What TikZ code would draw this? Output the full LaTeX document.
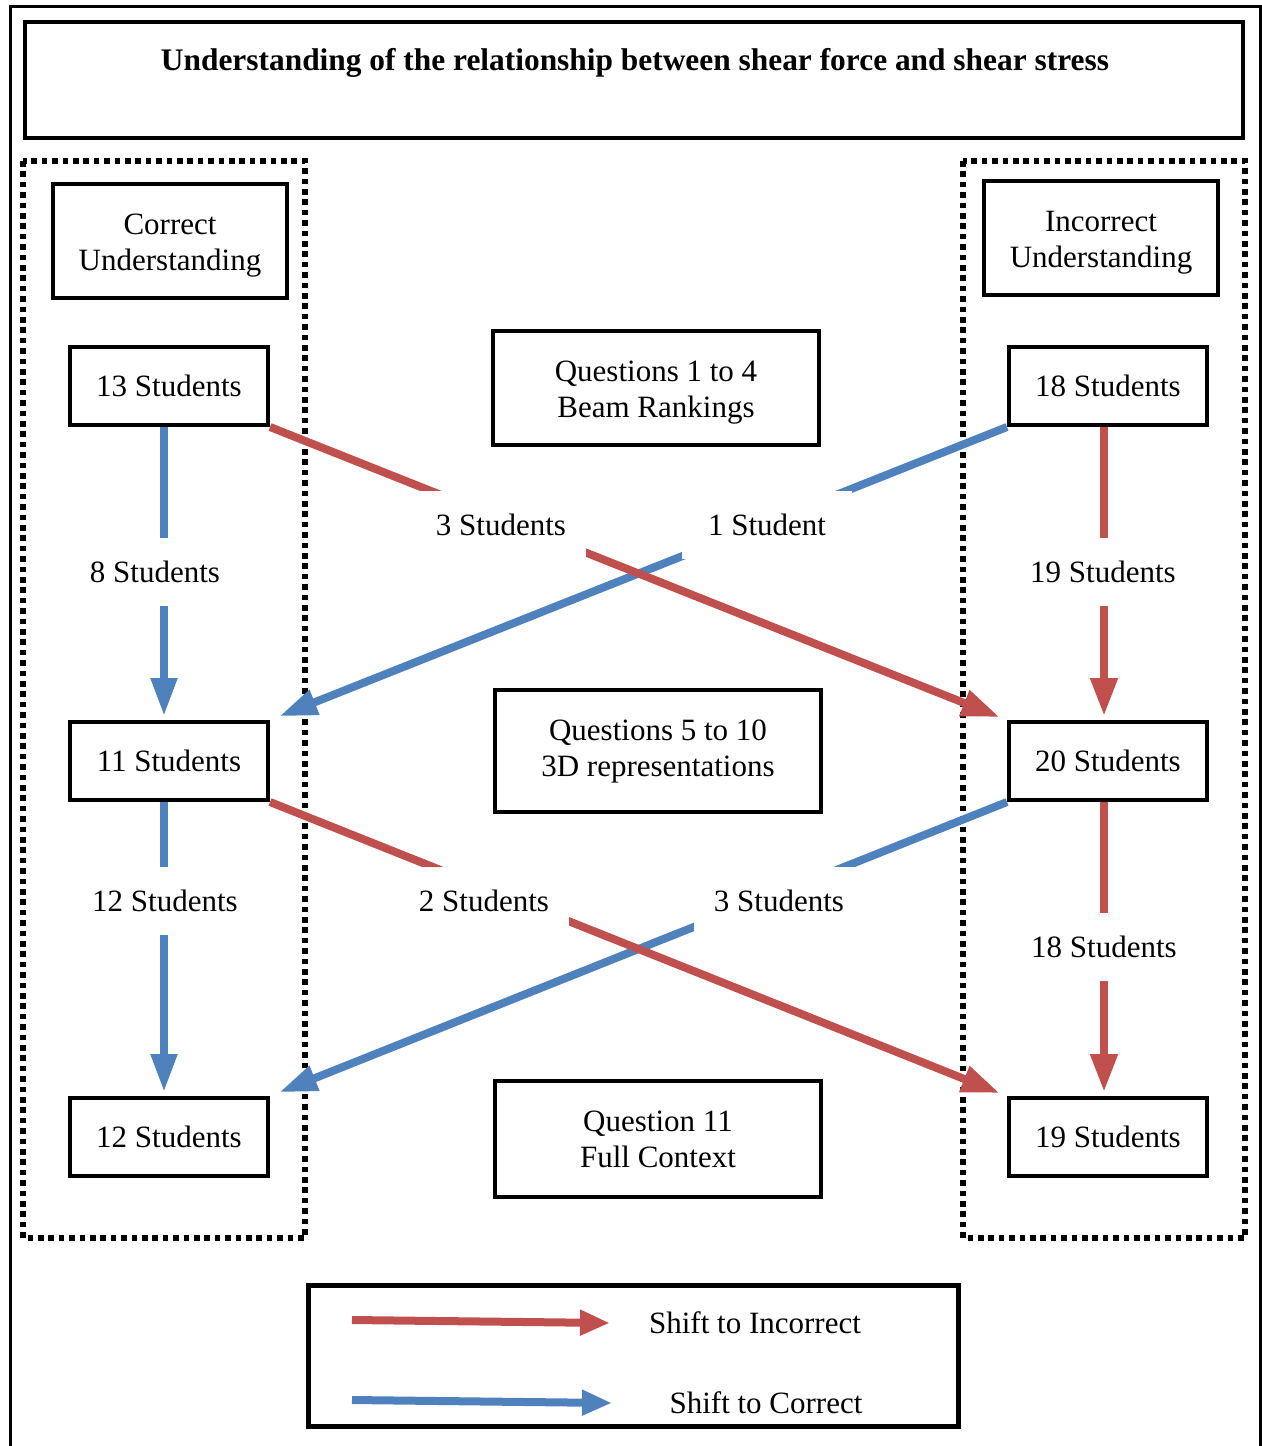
\documentclass[tikz,border=0pt]{standalone}
\usepackage{fontspec}
\setmainfont{Liberation Serif}
\usetikzlibrary{arrows.meta,positioning}
\definecolor{shiftred}{RGB}{192,80,77}
\definecolor{shiftblue}{RGB}{79,129,189}
\newcommand{\twolines}[2]{\raisebox{-2.2pt}[\height][\depth]{\begin{tabular}{@{}c@{}}#1\\#2\end{tabular}}}
\tikzset{
  box/.style={draw, line width=2pt, minimum width=99pt, minimum height=39pt, inner sep=0pt},
  qbox/.style={draw, line width=2pt, minimum width=163pt, align=center},
  count/.style={fill=white, inner sep=0pt, minimum width=85pt, minimum height=34pt},
  zone/.style={line width=2.7pt, dash pattern=on 2.8pt off 2.4pt},
  toinc/.style={draw=shiftred, line width=4pt, -{Triangle[length=19pt,width=13pt]}, shorten >=2pt},
  tocor/.style={draw=shiftblue, line width=4pt, -{Triangle[length=19pt,width=12.5pt]}, shorten >=2pt},
}
\begin{document}
\begin{tikzpicture}[x=0.5pt, y=-0.5pt, font=\fontsize{15.5}{18}\selectfont]
  \useasboundingbox (0,0) rectangle (1262,1446);
  % frame and title
  \draw[line width=1.5pt] (10,1446) -- (10,6) -- (1260,6) -- (1260,1446);
  \node[draw, line width=2pt, minimum width=609pt, minimum height=58pt] (title) at (634,80) {};
  \node[font=\fontsize{15.7}{18}\selectfont\bfseries] (titletext) at (635,63)
    {Understanding of the relationship between shear force and shear stress};

  % dotted zones
  \draw[zone] (23,161) rectangle (305,1238);
  \draw[zone] (963,161) rectangle (1245,1238);
  \node[box, minimum width=117pt, minimum height=57pt] (correct) at (170,241) {\twolines{Correct}{Understanding}};
  \node[box, minimum width=117pt, minimum height=57pt] (incorrect) at (1101,238) {\twolines{Incorrect}{Understanding}};

  % student counts
  \foreach \n/\x/\y/\t in {s13/169/386/13, s18/1108/386/18, s11/169/761/11,
                           s20/1108/761/20, s12/169/1137/12, s19/1108/1137/19} {
      \node[box] (\n) at (\x,\y) {\t\ Students};
    }

  % question groups
  \node[qbox, minimum height=57pt] (q1) at (656,388) {\twolines{Questions 1 to 4}{Beam Rankings}};
  \node[qbox, minimum height=61pt] (q5) at (658,751) {Questions 5 to 10\\3D representations};
  \node[qbox, minimum height=58pt] (q11) at (658,1139) {Question 11\\Full Context};

  % shifts
  \foreach \a/\b in {s13/s11, s11/s12} {
      \draw[tocor] ([xshift=-2.5pt]\a.south) -- ([xshift=-2.5pt]\b.north);
    }
  \foreach \a/\b in {s18/s20, s20/s19} {
      \draw[toinc] ([xshift=-2pt]\a.south) -- ([xshift=-2pt]\b.north);
    }
  \draw[tocor, shorten >=5pt] (s18.south west) -- (s11.north east);
  \draw[tocor, shorten >=5pt] (s20.south west) -- (s12.north east);
  \draw[toinc, shorten >=4pt] (s13.south east) -- (s20.north west);
  \draw[toinc, shorten >=4pt] (s11.south east) -- (s19.north west);

  \foreach \n/\x/\y/\t in {c8/155/572/8 Students, c19/1103/572/19 Students,
                           c3a/501/525/3 Students, c1/767/525/1 Student,
                           c12/165/901/12 Students, c18/1104/947/18 Students,
                           c2/484/901/2 Students, c3b/779/901/3 Students} {
      \node[count] (\n) at (\x,\y) {\t};
    }

  % legend
  \draw[line width=2.5pt] (308,1285) rectangle (958,1426);
  \coordinate (ra) at (352,1320);
  \coordinate (rb) at (610,1323);
  \coordinate (ba) at (352,1400);
  \coordinate (bb) at (612,1403);
  \draw[toinc, shorten >=0pt, -{Triangle[length=15pt,width=12pt]}] (ra) -- (rb);
  \draw[tocor, shorten >=0pt, -{Triangle[length=15pt,width=12pt]}] (ba) -- (bb);
  \node (inc) at (755,1323) {Shift to Incorrect};
  \node (cor) at (766,1403) {Shift to Correct};
\end{tikzpicture}
\end{document}
